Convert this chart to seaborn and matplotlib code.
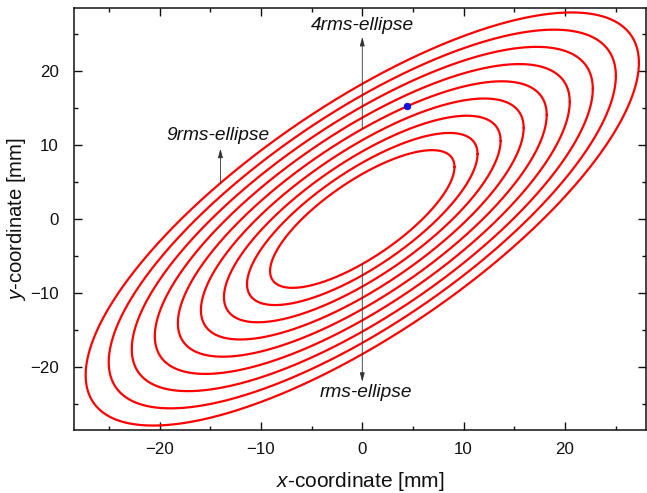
import numpy as np
import pandas as pd
import matplotlib
matplotlib.use("Agg")
import matplotlib.pyplot as plt
import seaborn as sns
from matplotlib.ticker import MultipleLocator

# ---- data ----
size_factors = [1.0, 1.25, 1.5, 1.75, 2.0, 2.25, 2.5, 2.75, 3.0]   # ellipse size relative to rms-ellipse
sigma_x = 9.1        # rms beam size x [mm]
sigma_y = 9.3        # rms beam size y [mm]
sigma_xy = 64.0      # x-y covariance [mm^2]
particle_x = [4.4]
particle_y = [15.2]
x_ticks = [-20, -10, 0, 10, 20]
y_ticks = [-20, -10, 0, 10, 20]
annotations = [
    ("4rms-ellipse", (0.0, 12.2), (0.0, 24.6), (0.0, 26.1)),
    ("9rms-ellipse", (-14.0, 4.8), (-14.0, 9.5), (-14.2, 11.3)),
    ("rms-ellipse", (0.0, -6.0), (0.0, -22.0), (0.4, -23.4)),
]

# ---- build ellipse curves from the covariance matrix ----
t = np.linspace(0, 2 * np.pi, 721)
l21 = sigma_xy / sigma_x
l22 = np.sqrt(sigma_y ** 2 - l21 ** 2)
rows = []
for s in size_factors:
    xs = s * sigma_x * np.cos(t)
    ys = s * (l21 * np.cos(t) + l22 * np.sin(t))
    rows.append(pd.DataFrame({"x": xs, "y": ys, "k": s}))
df = pd.concat(rows, ignore_index=True)

sns.set_theme(style="ticks")
plt.rcParams["font.family"] = ["Liberation Sans", "DejaVu Sans"]
plt.rcParams["mathtext.fontset"] = "custom"
plt.rcParams["mathtext.it"] = "Liberation Sans:italic"
plt.rcParams["mathtext.rm"] = "Liberation Sans"

fig = plt.figure(figsize=(6.47, 4.93), dpi=100)
ax = fig.add_axes([73.5 / 647, 1 - 430 / 493, (646 - 73.5) / 647, (430 - 8) / 493])

sns.lineplot(data=df, x="x", y="y", units="k", estimator=None, sort=False,
             color="#ff0000", linewidth=1.6, ax=ax, legend=False)
sns.scatterplot(x=particle_x, y=particle_y, color="#1010ee", s=24,
                edgecolor="#0000aa", linewidth=0.4, ax=ax, zorder=5)

for text, tail, tip, pos in annotations:
    ax.annotate("", xy=tip, xytext=tail,
                arrowprops=dict(arrowstyle="-|>,head_length=0.45,head_width=0.12",
                                color="#333333", lw=0.6, shrinkA=0, shrinkB=0))
    ax.text(pos[0], pos[1], text, ha="center", va="center",
            fontsize=13.8, fontstyle="italic", color="#111111")

ax.set_xlim(-28.5, 28.0)
ax.set_ylim(-28.5, 28.5)
ax.set_xticks(x_ticks)
ax.set_yticks(y_ticks)
ax.xaxis.set_minor_locator(MultipleLocator(5))
ax.yaxis.set_minor_locator(MultipleLocator(5))
ax.tick_params(which="both", direction="in", top=True, right=True,
               width=1.0, color="#111111", labelsize=12.2, labelcolor="#111111")
ax.tick_params(which="major", length=5.5)
ax.tick_params(which="minor", length=3)
ax.tick_params(axis="x", which="major", pad=9)
ax.tick_params(axis="y", which="major", pad=10.5)
for sp in ax.spines.values():
    sp.set_linewidth(1.1)
    sp.set_color("#111111")

ax.set_xlabel(r"$\it{x}$-coordinate [mm]", fontsize=15, color="#111111", labelpad=9)
ax.set_ylabel(r"$\it{y}$-coordinate [mm]", fontsize=14.6, color="#111111")
ax.yaxis.set_label_coords(-0.079, 0.5)

fig.savefig("out.png", dpi=100, facecolor="white")
